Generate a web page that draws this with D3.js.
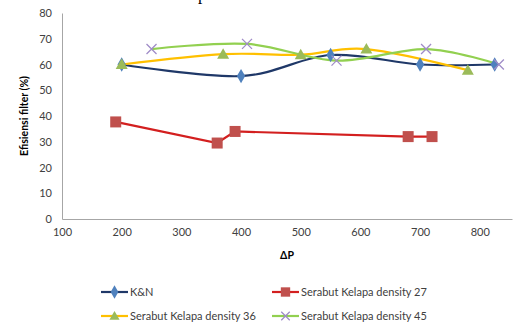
<!DOCTYPE html>
<html><head><meta charset="utf-8">
<script src="https://cdn.jsdelivr.net/npm/d3@7"></script>
<style>body{margin:0;background:#fff}svg{display:block}</style>
</head><body>
<svg id="c" width="517" height="322"></svg>
<script>
const knX = [200, 400, 550, 700, 825];
const knY = [60, 55.5, 63.7, 60, 60];
const s27X = [190, 360, 390, 680, 720];
const s27Y = [37.7, 29.5, 34, 32, 32];
const s36X = [200, 370, 500, 610, 780];
const s36Y = [60, 64, 63.8, 66, 57.8];
const s45X = [250, 410, 560, 710, 832];
const s45Y = [66, 68, 61.5, 66, 60];
const xTicks = [100, 200, 300, 400, 500, 600, 700, 800];
const yTicks = [0, 10, 20, 30, 40, 50, 60, 70, 80];
const seriesNames = ["K&N", "Serabut Kelapa density 27", "Serabut Kelapa density 36", "Serabut Kelapa density 45"];

const svg = d3.select("#c");
const font = "Lato, 'Open Sans', sans-serif";
const x = d3.scaleLinear().domain([100, 854]).range([62, 512]);
const y = d3.scaleLinear().domain([0, 80]).range([219, 13]);

// cropped title remnant (the reference's title is cut at the top edge)
svg.append("text").attr("x", 198).attr("y", 0).attr("font-family", "'Liberation Serif', serif")
  .attr("font-size", 17).attr("fill", "#000").text("p");

// axes
const ya = svg.append("g").attr("transform", "translate(62,0)")
  .call(d3.axisLeft(y).tickValues(yTicks).tickSize(0).tickPadding(10));
const xa = svg.append("g").attr("transform", "translate(0,219)")
  .call(d3.axisBottom(x).tickValues(xTicks).tickSize(0).tickPadding(9));
[ya, xa].forEach(g => {
  g.select(".domain").attr("stroke", "#a6a6a6").attr("stroke-width", 1);
  g.selectAll("text").attr("font-family", font).attr("font-size", 11).attr("fill", "#404040");
});

svg.append("text").attr("transform", "translate(28,116) rotate(-90)").attr("text-anchor", "middle")
  .attr("font-family", font).attr("font-weight", "bold").attr("font-size", 10.5).attr("fill", "#000")
  .text("Efisiensi filter (%)");
svg.append("text").attr("x", 287).attr("y", 259).attr("text-anchor", "middle")
  .attr("font-family", font).attr("font-weight", "bold").attr("font-size", 10.5).attr("fill", "#000")
  .text("ΔP");

const series = [
  {xs: knX, ys: knY, line: "#1f3868", marker: "diamond", mc: "#4f81bd", smooth: true},
  {xs: s27X, ys: s27Y, line: "#d31f1f", marker: "square", mc: "#c0504d", smooth: false},
  {xs: s36X, ys: s36Y, line: "#ffc000", marker: "triangle", mc: "#9bbb59", smooth: true},
  {xs: s45X, ys: s45Y, line: "#92d050", marker: "x", mc: "#a08cc8", smooth: true}
];
const smoothLine = d3.line().curve(d3.curveCatmullRom.alpha(0)).x(d => x(d[0])).y(d => y(d[1]));
const straightLine = d3.line().x(d => x(d[0])).y(d => y(d[1]));

function marker(g, type, cx, cy, col, s) {
  s = s || 1;
  if (type === "diamond") {
    g.append("path").attr("d", d3.symbol(d3.symbolDiamond, 60 * s)()).attr("transform", `translate(${cx},${cy})`).attr("fill", col);
  } else if (type === "square") {
    g.append("rect").attr("x", cx - 5.5 * s).attr("y", cy - 5.5 * s).attr("width", 11 * s).attr("height", 11 * s).attr("fill", col);
  } else if (type === "triangle") {
    const r = 6 * s;
    g.append("path").attr("d", `M${cx},${cy - r}L${cx + r},${cy + r * 0.75}L${cx - r},${cy + r * 0.75}Z`).attr("fill", col);
  } else {
    const r = 5 * s;
    g.append("path").attr("d", `M${cx - r},${cy - r}L${cx + r},${cy + r}M${cx - r},${cy + r}L${cx + r},${cy - r}`)
      .attr("stroke", col).attr("stroke-width", 1.3).attr("fill", "none");
  }
}

series.forEach(s => {
  const pts = s.xs.map((v, i) => [v, s.ys[i]]);
  svg.append("path").attr("d", (s.smooth ? smoothLine : straightLine)(pts)).attr("fill", "none")
    .attr("stroke", s.line).attr("stroke-width", 2.2);
});
series.forEach(s => {
  const g = svg.append("g");
  s.xs.forEach((v, i) => marker(g, s.marker, x(v), y(s.ys[i]), s.mc));
});

// legend
const legPos = [[101, 292], [272, 292], [101, 316], [272, 316]];
series.forEach((s, i) => {
  const [lx, ly] = legPos[i];
  const g = svg.append("g");
  g.append("line").attr("x1", lx).attr("x2", lx + 27).attr("y1", ly).attr("y2", ly).attr("stroke", s.line).attr("stroke-width", 2.2);
  marker(g, s.marker, lx + 13.5, ly, s.mc, 0.85);
  g.append("text").attr("x", lx + 29).attr("y", ly + 4).attr("font-family", font).attr("font-size", 11)
    .attr("fill", "#404040").text(seriesNames[i]);
});
</script>
</body></html>
